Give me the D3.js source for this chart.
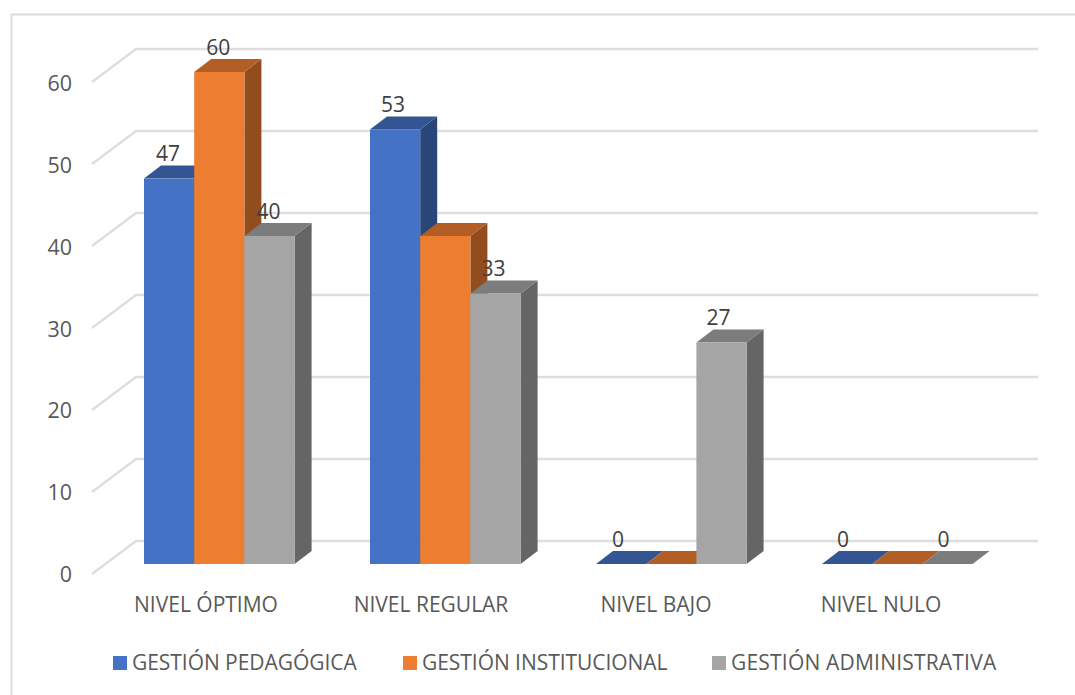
<!DOCTYPE html>
<html><head><meta charset="utf-8">
<script src="https://cdn.jsdelivr.net/npm/d3@7"></script>
<style>html,body{margin:0;padding:0;background:#fff}svg{display:block}text{font-family:"Open Sans",sans-serif;fill:#595959}</style>
</head><body><svg id="c" width="1075" height="695"></svg>
<script>
const categories=["NIVEL ÓPTIMO","NIVEL REGULAR","NIVEL BAJO","NIVEL NULO"];
const seriesNames=["GESTIÓN PEDAGÓGICA","GESTIÓN INSTITUCIONAL","GESTIÓN ADMINISTRATIVA"];
const pedagogica=[47,53,0,0];
const institucional=[60,40,0,0];
const administrativa=[40,33,27,0];
const tickValues=[0,10,20,30,40,50,60];
const frontColors=["#4472c4","#ed7d31","#a5a5a5"];
const topColors=["#335593","#b25e25","#7c7c7c"];
const sideColors=["#2a4678","#914d1e","#656565"];
const legendX=[113,403,712];
const legendSpacing=[-0.05,-0.05,0.2];
const catX=[206,431,656,881];

const svg=d3.select("#c");
const y=d3.scaleLinear().domain([0,60]).range([564,72]);
const x=d3.scaleBand().domain(categories).range([92,996]).paddingInner(0);
const barW=50.2, dx=17, dy=-13;
const groupLeft=c=>x(c)+52;
const series=[pedagogica,institucional,administrativa];

// outer frame: only top and left edges fall inside the picture
svg.append("path").attr("d",d3.line()([[11.5,695],[11.5,14.5],[1075,14.5]]))
  .attr("fill","none").attr("stroke","#dcdcdc").attr("stroke-width",2);

// gridlines on back wall + side wall
const gridG=svg.append("g").attr("fill","none").attr("stroke","#dedede").attr("stroke-width",2.4);
tickValues.forEach(t=>{
  const yy=y(t)+10;
  gridG.append("path").attr("d",d3.line()([[92,yy],[136,yy-33],[1038,yy-33]]));
});

// tick labels
svg.append("g").selectAll("text").data(tickValues).join("text")
  .attr("x",72).attr("y",d=>y(d)+18+d*0.02).attr("text-anchor","end").attr("font-size",21.5).text(d=>d);

const labels=[];
categories.forEach((c,ci)=>{
  series.forEach((vals,si)=>labels.push({ci,si,c,v:vals[ci]}));
});
const drawLabel=d=>svg.append("text")
  .attr("x",groupLeft(d.c)+d.si*barW+barW/2-1-d.ci)
  .attr("y",y(d.v)-17.5)
  .attr("text-anchor","middle").attr("font-size",21).style("fill","#404040").text(d.v);

// bars
categories.forEach((c,ci)=>{
  series.forEach((vals,si)=>{
    const v=vals[ci], x0=groupLeft(c)+si*barW, x1=x0+barW, yb=y(0), yt=y(v);
    const g=svg.append("g");
    g.append("path").attr("fill",sideColors[si])
      .attr("d",d3.line()([[x1,yb],[x1+dx,yb+dy],[x1+dx,yt+dy],[x1,yt]])+"Z");
    g.append("path").attr("fill",topColors[si])
      .attr("d",d3.line()([[x0,yt],[x0+dx,yt+dy],[x1+dx,yt+dy],[x1,yt]])+"Z");
    g.append("rect").attr("x",x0).attr("y",yt).attr("width",barW).attr("height",yb-yt).attr("fill",frontColors[si]);
  });
});
// only labels the reference leaves visible (the others sit behind a neighbouring bar)
const hidden=new Set(["1-1","2-1","3-1"]);
labels.filter(d=>!hidden.has(d.ci+"-"+d.si)).forEach(drawLabel);

// category labels
svg.append("g").selectAll("text").data(categories).join("text")
  .attr("x",(d,i)=>catX[i]).attr("y",612).attr("text-anchor","middle").attr("font-size",21).text(d=>d);

// legend
seriesNames.forEach((n,i)=>{
  svg.append("rect").attr("x",legendX[i]).attr("y",656).attr("width",14).attr("height",14).attr("fill",frontColors[i]);
  svg.append("text").attr("x",legendX[i]+19).attr("y",670).attr("font-size",21).attr("letter-spacing",legendSpacing[i]).text(n);
});
</script></body></html>
